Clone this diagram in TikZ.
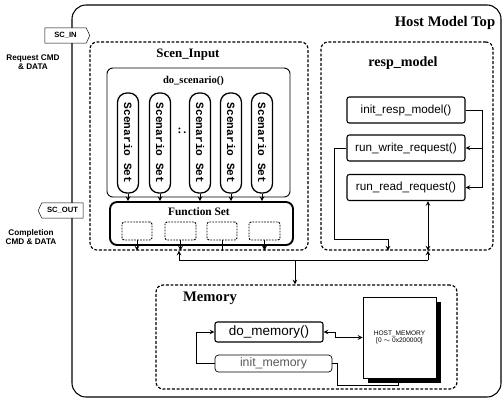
\documentclass[tikz,border=0pt]{standalone}
\usepackage{fontspec}
\setmainfont{Liberation Serif}
\setsansfont{Liberation Sans}
\setmonofont{Liberation Mono}
\usetikzlibrary{shapes.symbols}
\begin{document}
\begin{tikzpicture}[x=0.03cm,y=-0.03cm,>=stealth,
  box/.style={draw, rectangle, inner sep=0pt},
  dbox/.style={draw, rectangle, inner sep=0pt, rounded corners=6pt, line width=1pt, dash pattern=on 2.5pt off 1.5pt},
  pill/.style={draw, rectangle, inner sep=0pt, rotate=-90, line width=1.1pt, rounded corners=8pt,
    minimum width=3cm, minimum height=0.63cm, font=\ttfamily\bfseries\fontsize{9.5}{10}\selectfont},
  fbox/.style={draw, rectangle, inner sep=0pt, rounded corners=2pt, line width=0.8pt,
    dash pattern=on 1.5pt off 1pt, minimum height=0.54cm},
  rbox/.style={draw, rectangle, inner sep=0pt, rounded corners=2pt, line width=0.9pt,
    minimum width=3.54cm, minimum height=0.78cm, font=\sffamily\fontsize{10}{11}\selectfont},
  ttl/.style={font=\bfseries\fontsize{12}{13}\selectfont},
  sig/.style={draw, fill=white, signal, inner sep=0pt, signal pointer angle=130,
    minimum width=1.35cm, minimum height=0.46cm, font=\sffamily\bfseries\fontsize{6.5}{7}\selectfont},
  lbl/.style={align=center, font=\sffamily\bfseries\fontsize{7}{8}\selectfont}]
\useasboundingbox (0,0) rectangle (504,407);

% outer frame
\node[box, rounded corners=12pt, line width=0.9pt, minimum width=12.87cm, minimum height=11.76cm] (host) at (286.5,201) {};
\node[ttl, font=\bfseries\fontsize{12.5}{13}\selectfont] (hostt) at (445,23) {Host Model Top};

% ports
\node[sig, signal to=east] (scin) at (65.5,35.5) {SC\_IN};
\node[sig, signal to=west] (scout) at (62.5,210.5) {SC\_OUT};
\node[lbl] (req) at (33,62) {Request CMD\\ \& DATA};
\node[lbl] (cmp) at (31,237) {Completion\\ CMD \& DATA};

% Scen_Input
\node[dbox, minimum width=6.54cm, minimum height=6.24cm] (scen) at (199,146) {};
\node[ttl, font=\bfseries\fontsize{11}{12}\selectfont] (scent) at (188,55) {Scen\_Input};
\node[box, rounded corners=5pt, line width=0.8pt, minimum width=5.49cm, minimum height=3.87cm] (dosc) at (198.5,132.5) {};
\node[font=\bfseries\fontsize{9}{10}\selectfont] (dosct) at (193.5,81) {do\_scenario()};
\node[pill] (s1) at (128,143) {Scenario Set};
\node[pill] (s2) at (160,143) {Scenario Set};
\node[pill] (s3) at (200,143) {Scenario Set};
\node[pill] (s4) at (231,143) {Scenario Set};
\node[pill] (s5) at (262,143) {Scenario Set};
\node[font=\bfseries\fontsize{10}{10}\selectfont] (dots) at (182,131) {:\,.};

\node[box, rounded corners=6pt, line width=1.6pt, minimum width=5.49cm, minimum height=1.29cm] (fset) at (201.5,223.5) {};
\node[font=\bfseries\fontsize{9.7}{10}\selectfont] (fsett) at (199,212) {Function Set};
\node[fbox, minimum width=0.9cm] (f1) at (137,231) {};
\node[fbox, minimum width=0.93cm] (f2) at (180.5,231) {};
\node[fbox, minimum width=0.9cm] (f3) at (222,231) {};
\node[fbox, minimum width=0.93cm] (f4) at (264.5,231) {};

\foreach \i in {1,...,5}
  \draw[->, thick] (s\i.east) -- (s\i.east |- fset.north);
\draw[->, thick] (f1.south) -- (f1.south |- scen.south);
\draw[->, thick] (f2.south) -- (f2.south |- scen.south);
\draw[thick] (f3.south) -- (f3.south |- scen.south);
\draw[->, line width=1.2pt] (f4.south) -- (f4.south |- scen.south);

% resp_model
\node[dbox, minimum width=5.16cm, minimum height=6.24cm] (resp) at (407,146) {};
\node[ttl] (respt) at (403,63) {resp\_model};
\node[rbox] (init) at (406,110) {init\_resp\_model()};
\node[rbox] (write) at (406,148) {run\_write\_request()};
\node[rbox] (read) at (406,187.5) {run\_read\_request()};

\coordinate (rloop) at (482,110);
\draw[thick] (init.east) -- (rloop);
\draw[->, thick] (rloop) |- (read.east);
\draw[->, thick] (rloop |- write.east) -- (write.east);
\coordinate (wrin) at (388,239);
\draw[->, thick] (write.west) -- ++(-12,0) |- (wrin) -- (wrin |- resp.south);

% bus
\coordinate (busL) at (179,260);
\coordinate (busR) at (428,260);
\coordinate (busM) at (295,260);
\draw[thick] (busL) -- (busR);
\draw[->, thick] (busL) -- (busL |- scen.south);
\draw[->, thick] (busR) -- (busR |- resp.south);
\draw[<->, thick] (read.south -| busR) -- (busR |- resp.south);

% Memory
\node[dbox, minimum width=9.03cm, minimum height=3.12cm] (mem) at (306.5,337) {};
\node[ttl, font=\bfseries\fontsize{12.5}{13}\selectfont] (memt) at (210,298) {Memory};
\draw[->, thick] (busM) -- (busM |- mem.north);
\node[box, rounded corners=2pt, line width=0.9pt, minimum width=3.24cm, minimum height=0.6cm,
  font=\sffamily\fontsize{11.5}{12}\selectfont] (domem) at (269,332) {do\_memory()};
\node[box, rounded corners=3pt, line width=0.6pt, minimum width=3.51cm, minimum height=0.51cm,
  font=\sffamily\fontsize{10.5}{11}\selectfont, text=black!65] (initmem) at (273.5,363.5) {init\_memory};
\fill[black] (368,302) rectangle (441,383);
\node[box, fill=white, line width=0.8pt, minimum width=2.19cm, minimum height=2.43cm, align=center,
  font=\sffamily\fontsize{5.6}{6.5}\selectfont] (hostmem) at (399.5,337.5) {HOST\_MEMORY\\ {[0 $\sim$ 0x200000]}};

\draw[->, thick] (initmem.west) -- ++(-18,0) |- (domem.west);
\draw[<->, thick] (domem.east) -- ++(12,0) |- (hostmem.west);
\coordinate (hmin) at (398,385);
\draw[->, thick] (initmem.east) -- ++(5,0) |- (hmin) -- (hostmem.south -| hmin);
\end{tikzpicture}
\end{document}
